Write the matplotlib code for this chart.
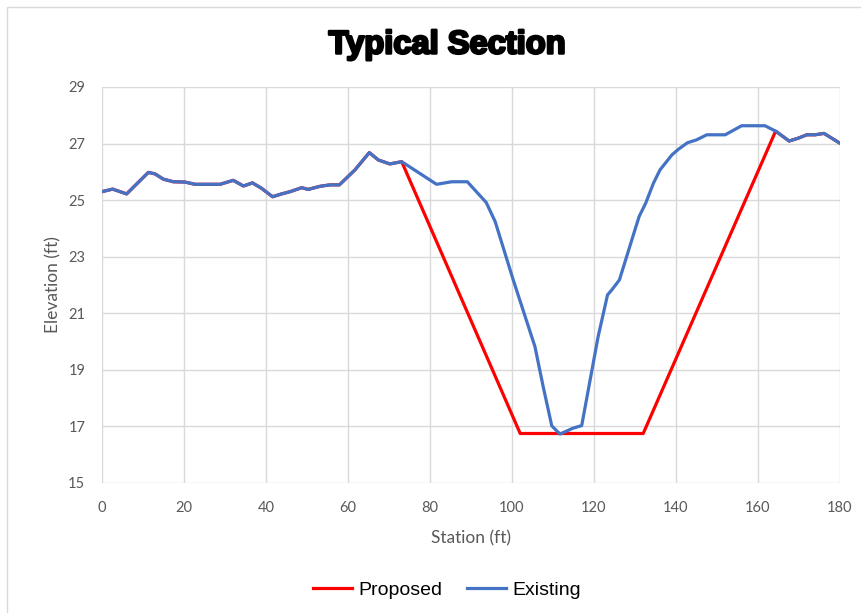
import matplotlib.pyplot as plt
import matplotlib.patheffects as pe
from matplotlib.patches import Rectangle

# existing ground profile
existing_sta = [0, 2.6, 6.0, 11.3, 12.9, 15.0, 17.4, 20.2, 22.7, 28.8, 32.0, 34.5, 36.7, 38.9,
                41.6, 43.8, 45.9, 48.7, 50.3, 53.2, 55.6, 57.9, 61.7, 65.2, 67.4, 70.2, 73.1,
                81.6, 85.3, 89.1, 93.7, 95.9, 100.3, 105.6, 107.6, 109.7, 111.7, 114.9, 117.0,
                121.0, 123.3, 124.3, 126.2, 129.6, 131.0, 132.6, 134.5, 136.1, 139.0, 140.6,
                142.8, 145.0, 147.5, 152.0, 156.0, 161.7, 164.3, 167.6, 169.8, 171.9, 173.9,
                176.1, 180]
existing_elev = [25.30, 25.39, 25.22, 25.98, 25.93, 25.74, 25.65, 25.64, 25.56, 25.56, 25.70,
                 25.50, 25.61, 25.42, 25.12, 25.22, 25.30, 25.44, 25.38, 25.49, 25.54, 25.54,
                 26.07, 26.68, 26.42, 26.28, 26.36, 25.56, 25.65, 25.65, 24.92, 24.24, 22.18,
                 19.82, 18.41, 17.02, 16.73, 16.94, 17.03, 20.17, 21.65, 21.82, 22.18, 23.77,
                 24.42, 24.89, 25.60, 26.07, 26.60, 26.80, 27.03, 27.13, 27.31, 27.31, 27.63,
                 27.63, 27.44, 27.09, 27.19, 27.31, 27.31, 27.36, 27.01]

# proposed section: follows existing to sta 73.1, channel 102-132, ties back at 164.3
proposed_sta = existing_sta[:27] + [102, 132] + existing_sta[56:]
proposed_elev = existing_elev[:27] + [16.75, 16.75] + existing_elev[56:]

x_ticks = [0, 20, 40, 60, 80, 100, 120, 140, 160, 180]
y_ticks = [15, 17, 19, 21, 23, 25, 27, 29]

fig = plt.figure(figsize=(8.62, 6.13), dpi=100)
fig.patches.append(Rectangle((7 / 862, -0.1), 1.2, 1 - 7 / 613 + 0.1, transform=fig.transFigure,
                             fill=False, edgecolor='#d9d9d9', linewidth=1))
ax = fig.add_axes([102 / 862, 1 - 483 / 613, 738 / 862, 396 / 613])

ax.plot(proposed_sta, proposed_elev, color='#ff0000', linewidth=2.3, label='Proposed')
ax.plot(existing_sta, existing_elev, color='#4472c4', linewidth=2.3, label='Existing')

ax.set_xlim(0, 180)
ax.set_ylim(15, 29)
ax.set_xticks(x_ticks)
ax.set_yticks(y_ticks)
ax.grid(True, color='#d9d9d9', linewidth=1)
ax.set_axisbelow(True)
for s in ax.spines.values():
    s.set_visible(False)
ax.tick_params(length=0, labelsize=10.5, labelcolor='#595959')
ax.tick_params(axis='x', pad=13)
ax.tick_params(axis='y', pad=12)
for lab in ax.get_xticklabels() + ax.get_yticklabels():
    lab.set_family('Lato')

ax.set_xlabel('Station (ft)', fontsize=12.5, color='#595959', family='Lato', labelpad=11)
ax.set_ylabel('Elevation (ft)', fontsize=12.5, color='#595959', family='Lato', labelpad=5)

fig.text(447 / 862, 1 - 45 / 613, 'Typical Section', ha='center', va='center', fontsize=23.5,
         fontweight='bold', family='Liberation Sans',
         path_effects=[pe.withStroke(linewidth=1.8, foreground='black')])

fig.legend(loc='center', bbox_to_anchor=(447 / 862, 1 - 590 / 613), ncol=2, frameon=False,
           prop={'family': 'Liberation Sans', 'size': 14}, handlelength=2.0, columnspacing=1.3,
           handletextpad=0.3)

fig.savefig('out.png', dpi=100)
